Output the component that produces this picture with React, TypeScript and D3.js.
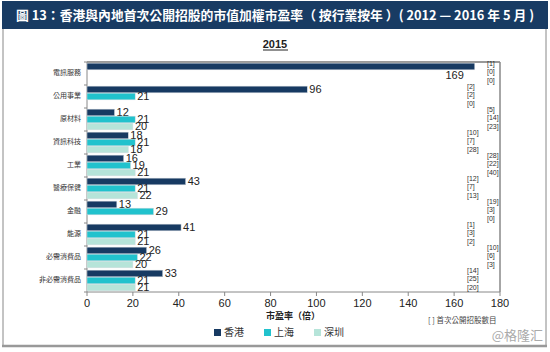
import React from 'react';
import * as d3 from 'd3';

const categories = ['電訊服務', '公用事業', '原材料', '資訊科技', '工業', '醫療保健', '金融', '能源', '必需消費品', '非必需消費品'];
const seriesNames = ['香港', '上海', '深圳'];
const hkPE = [169, 96, 12, 18, 16, 43, 13, 41, 26, 33];
const shPE = [null, 21, 21, 21, 19, 21, 29, 21, 22, 21];
const szPE = [null, null, 20, 18, 21, 22, null, 21, 20, 21];
const hkIpo = [1, 2, 5, 10, 28, 12, 19, 1, 10, 14];
const shIpo = [0, 2, 14, 7, 22, 7, 3, 3, 6, 25];
const szIpo = [0, 0, 23, 28, 40, 13, 0, 2, 3, 20];
const xTicks = [0, 20, 40, 60, 80, 100, 120, 140, 160, 180];

const colors = ['#173a62', '#21c2cd', '#b6e4d9'];
const cjk = '"Noto Sans CJK TC", "Noto Sans CJK SC", sans-serif';
const latin = '"Liberation Sans", Arial, sans-serif';

const W = 550;
const H = 352;
const plot = { left: 87, right: 500, top: 62, bottom: 292 };

const App = () => {
  const x = d3.scaleLinear().domain([0, 180]).range([plot.left, plot.right]);
  const y = d3.scaleBand<string>().domain(categories).range([plot.top, plot.bottom]).paddingInner(0.1).paddingOuter(0.05);
  const inner = d3.scaleBand<number>().domain([0, 1, 2]).range([0, y.bandwidth()]).paddingInner(0.05);
  const band = (plot.bottom - plot.top) / categories.length;

  const series = [hkPE, shPE, szPE];
  const ipos = [hkIpo, shIpo, szIpo];

  return (
    <div style={{ position: 'fixed', left: 0, top: 0 }}>
      <svg width={W} height={H} style={{ display: 'block', background: '#fff' }}>
        {/* frame + title */}
        <rect x={2} y={1} width={546} height={28} fill="#183b63" />
        <text x={275} y={20} textAnchor="middle" fill="#fff" fontFamily={cjk} fontWeight="bold" fontSize={13}
          textLength={518} lengthAdjust="spacingAndGlyphs">
          圖 13：香港與內地首次公開招股的市值加權市盈率（ 按行業按年 ）( 2012 — 2016 年 5 月 )
        </text>
        <line x1={3} y1={29} x2={3} y2={346} stroke="#888" strokeWidth={1} />
        <line x1={546} y1={29} x2={546} y2={346} stroke="#888" strokeWidth={1} />
        <line x1={2} y1={346} x2={547} y2={346} stroke="#999" strokeWidth={2.5} />

        <text x={275} y={48} textAnchor="middle" fontFamily={latin} fontWeight="bold" fontSize={11} fill="#222">2015</text>
        <line x1={263} y1={50} x2={288} y2={50} stroke="#222" strokeWidth={1} />

        {/* plot box */}
        <line x1={plot.left} y1={plot.top} x2={plot.right} y2={plot.top} stroke="#999" strokeWidth={2} />
        <line x1={plot.right} y1={plot.top} x2={plot.right} y2={plot.bottom} stroke="#888" strokeWidth={1.5} />
        <line x1={plot.left} y1={plot.top} x2={plot.left} y2={plot.bottom} stroke="#888" strokeWidth={1} />
        <line x1={plot.left} y1={plot.bottom} x2={plot.right} y2={plot.bottom} stroke="#888" strokeWidth={1} />

        {d3.range(categories.length + 1).map((i) => (
          <line key={'yt' + i} x1={plot.left - 3} x2={plot.left} y1={plot.top + i * band} y2={plot.top + i * band} stroke="#888" />
        ))}
        {categories.map((c) => (
          <text key={c} x={plot.left - 6} y={(y(c) ?? 0) + y.bandwidth() / 2} textAnchor="end" dominantBaseline="middle"
            fontFamily={cjk} fontSize={7} fill="#333">{c}</text>
        ))}

        {xTicks.map((t) => (
          <g key={'xt' + t}>
            <line x1={x(t)} x2={x(t)} y1={plot.bottom} y2={plot.bottom + 4} stroke="#888" />
            <text x={x(t)} y={plot.bottom + 15} textAnchor="middle" fontFamily={latin} fontSize={11} fill="#222">{t}</text>
          </g>
        ))}

        {/* bars */}
        {categories.map((c, ci) => {
          const mid = (y(c) ?? 0) + y.bandwidth() / 2;
          return (
            <g key={'g' + c}>
              {series.map((s, si) => {
                const v = s[ci];
                if (v == null) return null;
                const by = (y(c) ?? 0) + (inner(si) ?? 0);
                const bh = inner.bandwidth();
                const xe = x(v);
                // no room to the right: drop the label under the bar, like the source
                const overflow = xe + 40 > plot.right;
                return (
                  <g key={si}>
                    <rect x={x(0)} y={by} width={xe - x(0)} height={bh} fill={colors[si]} stroke="#d6dbe0" strokeWidth={0.5} />
                    <text x={overflow ? xe - 11 : xe + 2} y={overflow ? by + bh * 1.5 + 3 : by + bh / 2 + 1}
                      textAnchor={overflow ? 'end' : 'start'} dominantBaseline="middle"
                      fontFamily={latin} fontSize={11} fill="#222">{v}</text>
                  </g>
                );
              })}
              {ipos.map((arr, si) => (
                <text key={'ipo' + si} x={ci % 2 === 0 ? 487 : 467}
                  y={mid - 1 + (si - 1) * 8.6}
                  dominantBaseline="middle" fontFamily={latin} fontSize={7} fill="#333">[{arr[ci]}]</text>
              ))}
            </g>
          );
        })}

        {/* axis title + note */}
        <text x={293} y={319} textAnchor="middle" fontFamily={cjk} fontWeight="bold" fontSize={9} fill="#222">市盈率（倍）</text>
        <text x={428} y={323} fontFamily={cjk} fontSize={7.5} fill="#444">[ ] 首次公開招股數目</text>

        {/* legend */}
        {seriesNames.map((n, i) => (
          <g key={n} transform={`translate(${214 + i * 50},${333})`}>
            <rect x={0} y={-4} width={7} height={7} fill={colors[i]} />
            <text x={10} y={0} dominantBaseline="middle" fontFamily={cjk} fontSize={10} fill="#333">{n}</text>
          </g>
        ))}

        <text x={543} y={340} textAnchor="end" fontFamily={cjk} fontSize={13} fill="#aaa">@格隆汇</text>
      </svg>
    </div>
  );
};

export default App;
